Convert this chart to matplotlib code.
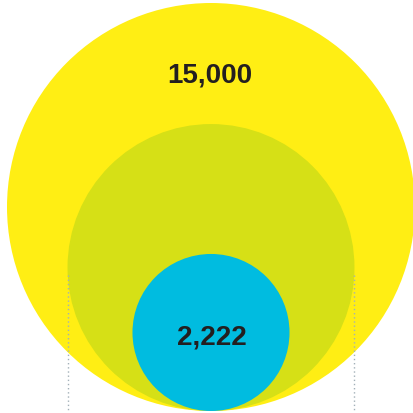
# nested circles: total vs subset, area proportional to value
import numpy as np
import matplotlib.pyplot as plt
from matplotlib.patches import Circle

values = [15000, 7420, 2222]
labels = ["15,000", None, "2,222"]
colors = ["#FFEE14", "#D6E016", "#00BCE0"]

W, H = 414, 413
cx, base = 211, 411          # circles share a bottom tangent point
k = 204 / np.sqrt(values[0])  # px per sqrt(unit)

fig = plt.figure(figsize=(W / 100, H / 100), dpi=100)
ax = fig.add_axes([0, 0, 1, 1])
ax.set_xlim(0, W)
ax.set_ylim(H, 0)
ax.set_aspect("equal")
ax.axis("off")

radii = [k * np.sqrt(v) for v in values]
for r, c in zip(radii, colors):
    ax.add_patch(Circle((cx, base - r), r, color=c, lw=0))

# dotted guides at the edges of the middle circle
rm = radii[1]
for x in (cx - rm, cx + rm):
    ax.plot([x, x], [275, 410], color="#A3B0B8", lw=1, ls=(0, (1, 2)))

# label baselines (px from top)
label_pos = [(210, 82.5), None, (211.7, 344.5)]
for lab, pos in zip(labels, label_pos):
    if lab:
        ax.text(pos[0], pos[1], lab, ha="center", va="baseline", fontsize=20,
                fontweight="bold", color="#231F20", family="Liberation Sans")

fig.savefig("out.png", dpi=100)
